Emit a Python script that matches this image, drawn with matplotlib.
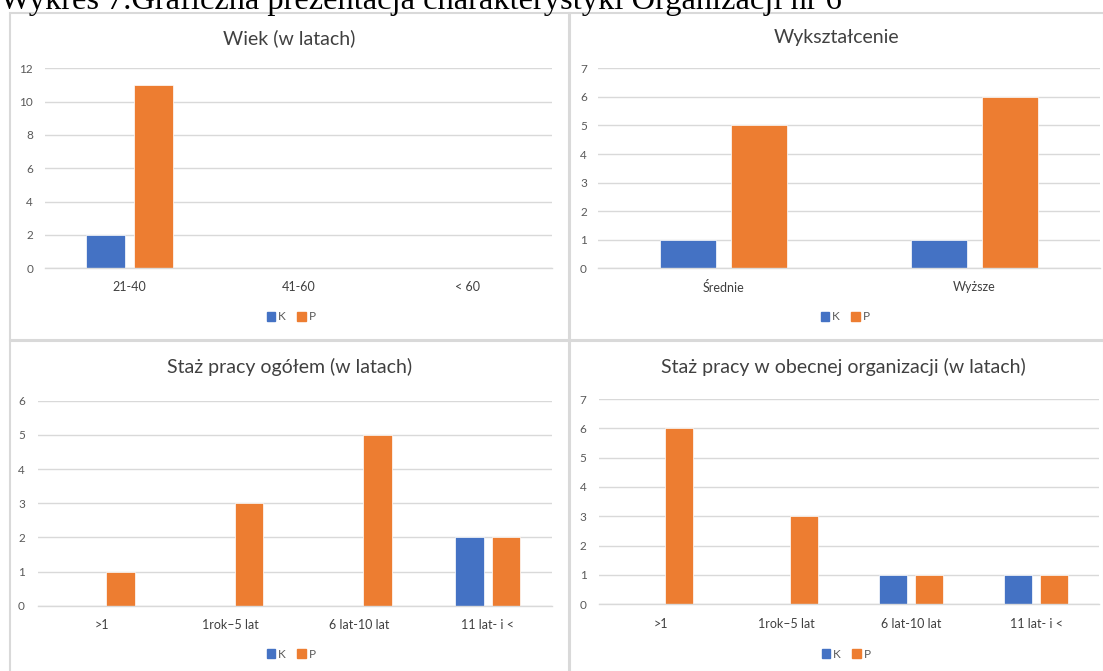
import matplotlib
matplotlib.use("Agg")
import matplotlib.pyplot as plt
from matplotlib.patches import Rectangle, Patch

# ---- data ----
wiek_cats = ["21-40", "41-60", "< 60"]
wiek_k = [2, 0, 0]
wiek_p = [11, 0, 0]

wyksz_cats = ["Średnie", "Wyższe"]
wyksz_k = [1, 1]
wyksz_p = [5, 6]

staz_cats = [">1", "1rok\u20135 lat", "6 lat-10 lat", "11 lat- i <"]
staz_k = [0, 0, 0, 2]
staz_p = [1, 3, 5, 2]

staz_org_cats = [">1", "1rok\u20135 lat", "6 lat-10 lat", "11 lat- i <"]
staz_org_k = [0, 0, 1, 1]
staz_org_p = [6, 3, 1, 1]

series_names = ["K", "P"]
titles = ["Wiek (w latach)", "Wykształcenie",
          "Staż pracy ogółem (w latach)",
          "Staż pracy w obecnej organizacji (w latach)"]
heading = "Wykres 7.Graficzna prezentacja charakterystyki Organizacji nr 6"

# ---- style ----
W, H = 1103, 671
BLUE = "#4472C4"
ORANGE = "#ED7D31"
GRID = "#D9D9D9"
TICK = "#595959"
LABEL = "#404040"
FONT = ["Lato", "DejaVu Sans"]
plt.rcParams["font.family"] = FONT

fig = plt.figure(figsize=(W / 100, H / 100), dpi=100)


def fx(x):
    return x / W


def fy(y):
    return 1 - y / H


def panel(x0, y0, x1, y1):
    fig.patches.append(Rectangle((fx(x0), fy(y1)), fx(x1) - fx(x0), fy(y0) - fy(y1),
                                 transform=fig.transFigure, fill=False,
                                 edgecolor=GRID, linewidth=1.5, zorder=0))


def chart(cats, k, p, ymax, ystep, ax_px, title, title_xy, legend_xy,
          ypad_px, xpad_px):
    x0, x1, ytop, ybot = ax_px
    ax = fig.add_axes([fx(x0), fy(ybot), fx(x1) - fx(x0), fy(ytop) - fy(ybot)])
    n = len(cats)
    pos = list(range(n))
    w = 0.225
    off = 0.142
    ax.bar([i - off for i in pos], k, width=w, color=BLUE, edgecolor="white",
           linewidth=0.5, zorder=3, label=series_names[0])
    ax.bar([i + off for i in pos], p, width=w, color=ORANGE, edgecolor="white",
           linewidth=0.5, zorder=3, label=series_names[1])
    ax.set_xlim(-0.5, n - 0.5)
    ax.set_ylim(0, ymax)
    ax.set_yticks(range(0, ymax + 1, ystep))
    ax.set_xticks(pos)
    ax.set_xticklabels(cats)
    ax.grid(axis="y", color=GRID, linewidth=1.0, zorder=0)
    for s in ["top", "right", "left"]:
        ax.spines[s].set_visible(False)
    ax.spines["bottom"].set_color(GRID)
    ax.spines["bottom"].set_linewidth(1.0)
    ax.spines["bottom"].set_zorder(4)
    ax.tick_params(axis="y", length=0, pad=ypad_px * 0.72, labelsize=8.5,
                   labelcolor=TICK)
    ax.tick_params(axis="x", length=0, pad=xpad_px * 0.72, labelsize=9,
                   labelcolor=LABEL)
    fig.text(fx(title_xy[0]), fy(title_xy[1]), title, ha="center", va="center",
             fontsize=14, color=LABEL)
    handles = [Patch(color=BLUE), Patch(color=ORANGE)]
    fig.legend(handles, series_names, loc="center", ncol=2,
               bbox_to_anchor=(fx(legend_xy[0]), fy(legend_xy[1])),
               frameon=False, fontsize=8.5, labelcolor=TICK,
               handlelength=0.75, handleheight=0.75, handletextpad=0.25,
               columnspacing=0.9)
    return ax


# panel frames
panel(10, 12.5, 569, 340)
panel(570, 12.5, 1104, 340)
panel(10, 341, 569, 672)
panel(570, 341, 1104, 672)

chart(wiek_cats, wiek_k, wiek_p, 12, 2, (45, 552, 68.3, 268.3),
      titles[0], (289.5, 38), (291, 317), 12, 12.5)
chart(wyksz_cats, wyksz_k, wyksz_p, 7, 1, (598, 1100, 68.3, 268.3),
      titles[1], (837, 38), (845, 317), 11, 12.5)
chart(staz_cats, staz_k, staz_p, 6, 1, (38, 552, 400.7, 605.7),
      titles[2], (289.5, 367), (291, 654), 13, 13.5)
chart(staz_org_cats, staz_org_k, staz_org_p, 7, 1, (598.6, 1098.6, 399, 604.3),
      titles[3], (843, 367), (846, 654), 12, 13.5)

fig.text(0, fy(9.5), heading, ha="left", va="baseline", fontsize=23.4,
         family=["Liberation Serif", "DejaVu Serif"], color="black")

fig.savefig("out.png", dpi=100, facecolor="white")
